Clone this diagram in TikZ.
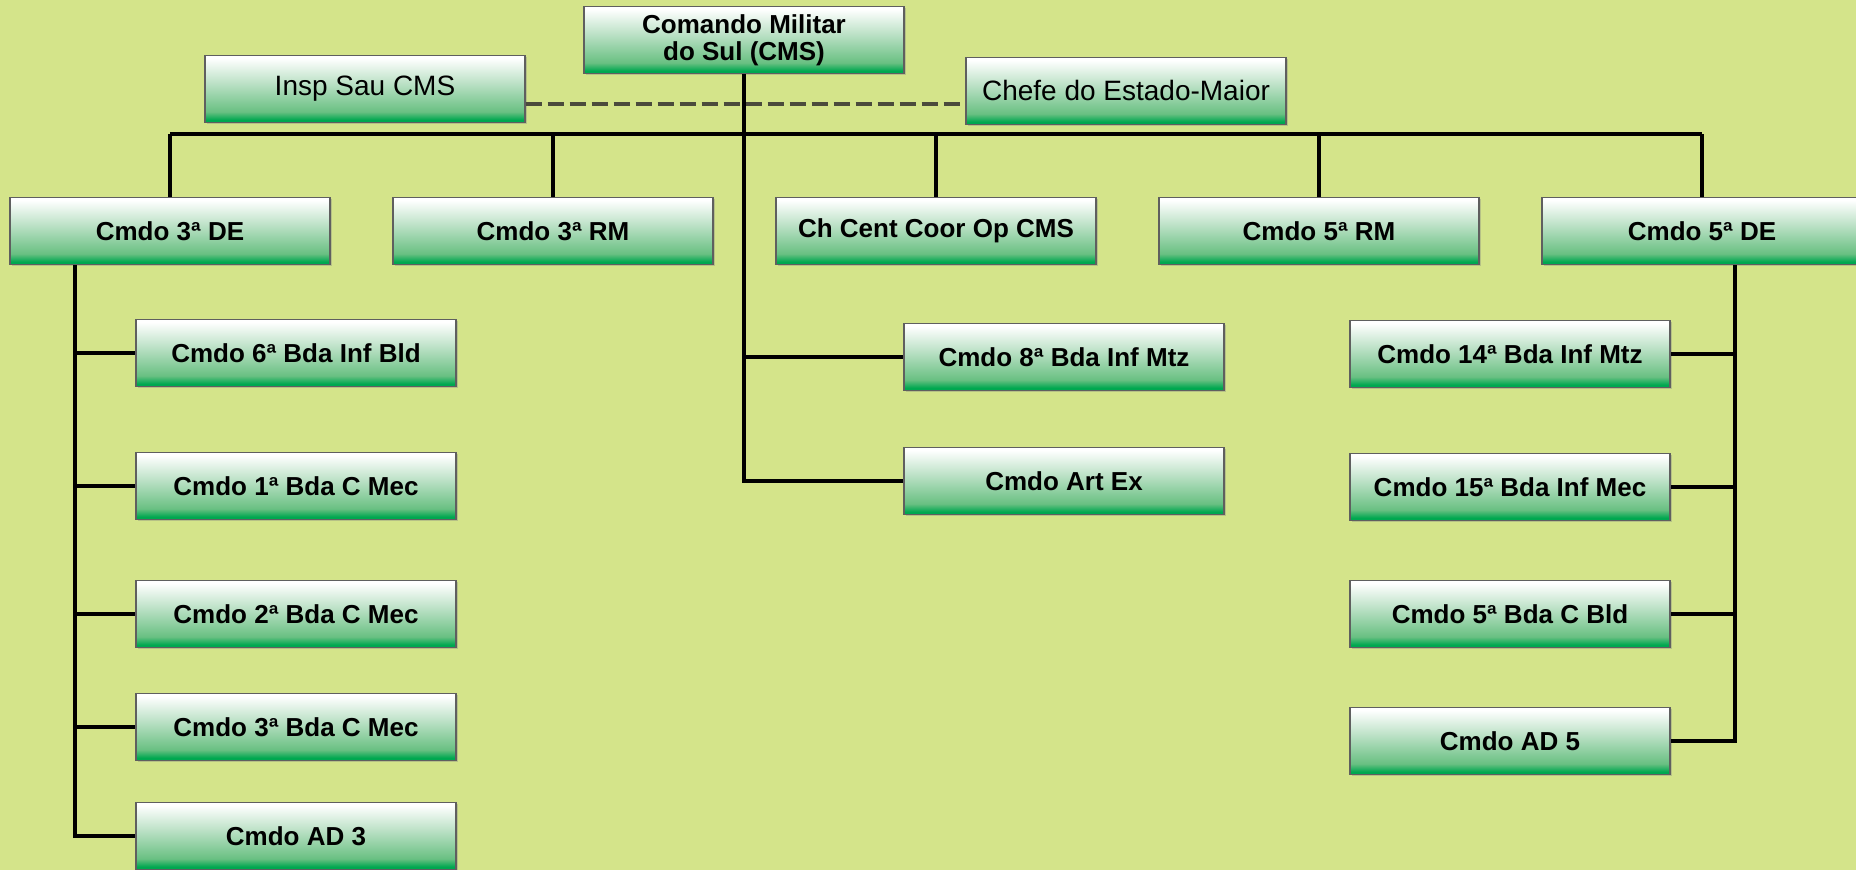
\documentclass[tikz,border=0pt]{standalone}
\usepackage{fontspec}
\setmainfont{Liberation Sans}
\usetikzlibrary{shadows}

\definecolor{fundo}{RGB}{212,228,138}
\definecolor{verde}{RGB}{0,168,80}
\definecolor{verdemeio}{RGB}{105,192,130}
\definecolor{verdeclaro}{RGB}{190,226,200}
\definecolor{borda}{RGB}{95,95,95}
\definecolor{tracejado}{RGB}{75,75,60}

\pgfdeclareverticalshading{caixaverde}{100bp}{color(0bp)=(verde); color(27bp)=(verde); color(33bp)=(verdemeio); color(55bp)=(verdeclaro); color(73bp)=(white); color(100bp)=(white)}

\tikzset{
  caixa/.style={draw=borda, line width=0.6pt, shading=caixaverde, minimum width=160pt, minimum height=33.5pt, inner sep=0pt, align=center, font=\fontsize{13}{13.5}\selectfont\bfseries, drop shadow={shadow xshift=0.8pt, shadow yshift=-0.8pt, opacity=0.35}},
  caixafina/.style={caixa, font=\fontsize{14}{14}\selectfont},
  ligacao/.style={draw=black, line width=1.6pt},
  tracejada/.style={draw=tracejado, line width=2pt, dash pattern=on 8pt off 3pt}
}

\begin{document}
\begin{tikzpicture}[x=0.5pt,y=-0.5pt]
	\fill[fundo] (0,0) rectangle (1856,870);
	\useasboundingbox (0,0) rectangle (1856,870);

	\node[caixa] (cms) at (744,40) {Comando Militar\\do Sul (CMS)};
	\node[caixafina] (insp) at (365,89) {Insp Sau CMS};
	\node[caixafina] (chefe) at (1126,91) {Chefe do Estado-Maior};

	\node[caixa] (de3)  at (170,231)  {Cmdo 3ª DE};
	\node[caixa] (rm3)  at (553,231)  {Cmdo 3ª RM};
	\node[caixa] (ccop) at (936,231)  {Ch Cent Coor Op CMS};
	\node[caixa] (rm5)  at (1319,231) {Cmdo 5ª RM};
	\node[caixa] (de5)  at (1702,231) {Cmdo 5ª DE};

	\node[caixa] (b6)  at (296,353) {Cmdo 6ª Bda Inf Bld};
	\node[caixa] (c1)  at (296,486) {Cmdo 1ª Bda C Mec};
	\node[caixa] (c2)  at (296,614) {Cmdo 2ª Bda C Mec};
	\node[caixa] (c3)  at (296,727) {Cmdo 3ª Bda C Mec};
	\node[caixa] (ad3) at (296,836) {Cmdo AD 3};

	\node[caixa] (b8)    at (1064,357) {Cmdo 8ª Bda Inf Mtz};
	\node[caixa] (artex) at (1064,481) {Cmdo Art Ex};

	\node[caixa] (b14) at (1510,354) {Cmdo 14ª Bda Inf Mtz};
	\node[caixa] (b15) at (1510,487) {Cmdo 15ª Bda Inf Mec};
	\node[caixa] (c5)  at (1510,614) {Cmdo 5ª Bda C Bld};
	\node[caixa] (ad5) at (1510,741) {Cmdo AD 5};

	\coordinate (barra) at (744,134);
	\coordinate (tronco3) at (75,0);
	\coordinate (tronco5) at (1735,0);

	\draw[tracejada] ([yshift=-7.7pt]insp.east) -- ([yshift=-7.7pt]insp.east -| chefe.west);

	\draw[ligacao] (cms.south) |- (artex.west);
	\draw[ligacao] (cms.south |- b8.west) -- (b8.west);
	\draw[ligacao] (de3.north |- barra) -- (de5.north |- barra);
	\foreach \n in {de3,rm3,ccop,rm5,de5}
		\draw[ligacao] (\n.north) -- (\n.north |- barra);
	\foreach \n in {b6,c1,c2,c3,ad3}
		\draw[ligacao] (de3.south -| tronco3) |- (\n.west);
	\foreach \n in {b14,b15,c5,ad5}
		\draw[ligacao] (de5.south -| tronco5) |- (\n.east);
\end{tikzpicture}
\end{document}
